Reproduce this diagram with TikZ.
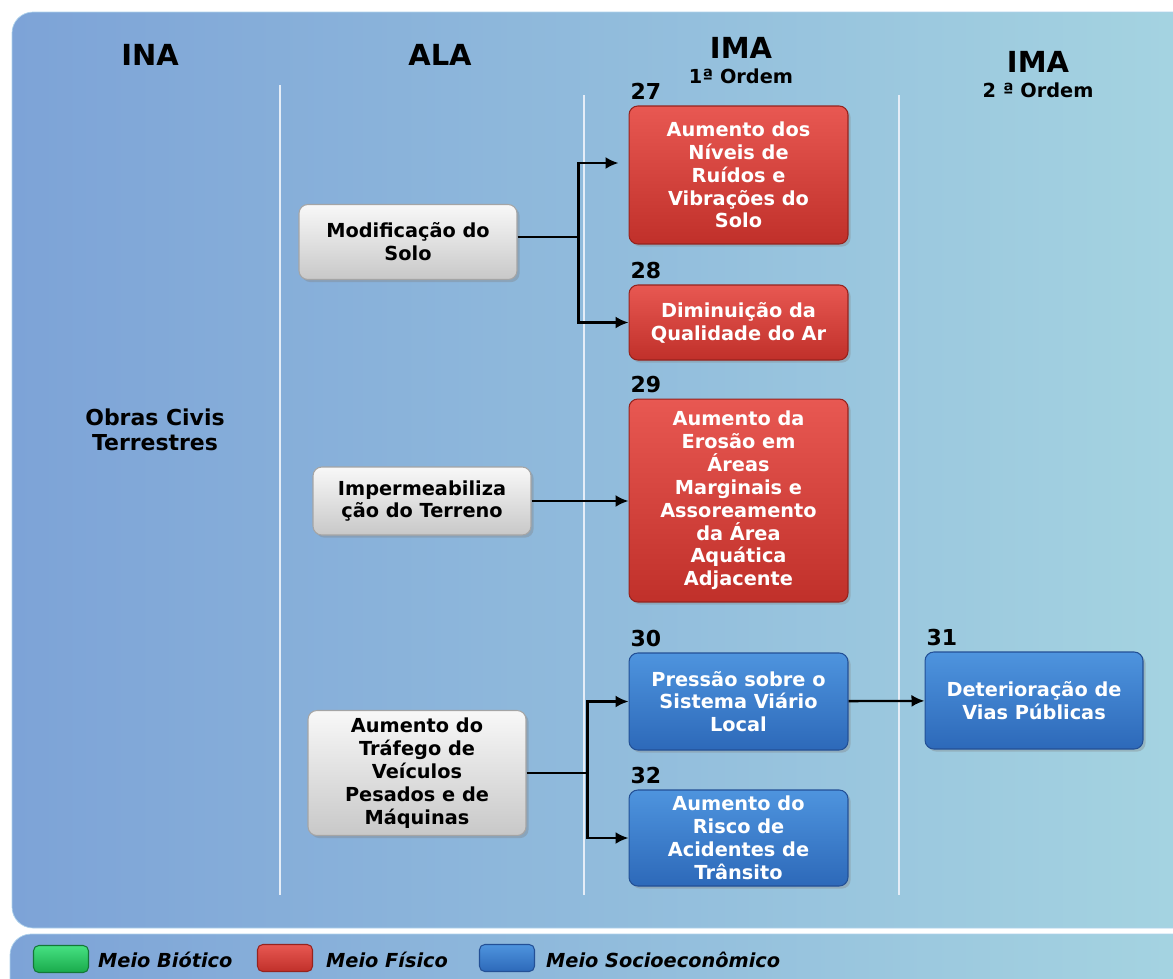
\documentclass[tikz,border=0pt]{standalone}
\usepackage{fontspec}
\setmainfont{DejaVu Sans}
\usepackage{tikz}
\usetikzlibrary{arrows.meta}
\usetikzlibrary{positioning}
\usetikzlibrary{shadows}
\definecolor{panelL}{RGB}{125,163,215}
\definecolor{panelM}{RGB}{128,180,208}
\definecolor{panelR}{RGB}{165,212,225}
\definecolor{panelD}{RGB}{175,210,235}
\definecolor{fisA}{RGB}{232,88,82}
\definecolor{fisB}{RGB}{192,48,42}
\definecolor{fisD}{RGB}{150,35,30}
\definecolor{socA}{RGB}{78,148,222}
\definecolor{socB}{RGB}{45,105,185}
\definecolor{socD}{RGB}{35,80,150}
\definecolor{grayA}{RGB}{248,248,248}
\definecolor{grayB}{RGB}{200,200,200}
\definecolor{grayD}{RGB}{165,165,165}
\definecolor{bioA}{RGB}{70,225,130}
\definecolor{bioB}{RGB}{25,170,75}
\definecolor{bioD}{RGB}{20,120,55}

\begin{document}
\begin{tikzpicture}[x=0.02cm, y=-0.02cm, >={Latex[length=0.26cm,width=0.24cm]},
		box/.style={font=\fontsize{11}{13}\selectfont\bfseries, align=center, rounded corners=5pt, line width=0.6pt,
			drop shadow={opacity=0.35, shadow xshift=1.5pt, shadow yshift=-1.5pt}},
		fis/.style={box, top color=fisA, bottom color=fisB, draw=fisD, text=white, minimum width=4.38cm},
		soc/.style={box, top color=socA, bottom color=socB, draw=socD, text=white, minimum width=4.38cm},
		ala/.style={box, top color=grayA, bottom color=grayB, draw=grayD, text=black, minimum width=4.36cm},
		num/.style={font=\fontsize{12.5}{14}\selectfont\bfseries, anchor=south west, inner sep=1pt, yshift=2pt},
		head/.style={font=\fontsize{16.5}{18}\selectfont\bfseries},
		sub/.style={font=\fontsize{11}{12}\selectfont\bfseries},
		line/.style={line width=1.3pt},
		sep/.style={white!80!panelL, line width=0.6pt},
		sw/.style={rounded corners=3pt, minimum width=1.1cm, minimum height=0.54cm, line width=0.6pt},
		lgd/.style={font=\fontsize{11}{12}\selectfont\bfseries\itshape, anchor=west}]
		\useasboundingbox (0,0) rectangle (1173,978);
		% panels
		\shade[left color=panelL, middle color=panelM, right color=panelR, draw=panelD, rounded corners=12pt] (12,12) rectangle (1195,928);
		\shade[left color=panelL, middle color=panelM, right color=panelR, draw=panelD, rounded corners=12pt] (10,934) rectangle (1195,1000);
		\draw[sep] (280,85) -- (280,895);
		\draw[sep] (584,95) -- (584,895);
		\draw[sep] (899,95) -- (899,895);
		% column headers
		\node[head] (ina) at (150,55) {INA};
		\node[head] (alah) at (440,55) {ALA};
		\node[head] (ima1) at (741,48) {IMA};
		\node[sub] (ord1) at (741,76) {1ª Ordem};
		\node[head] (ima2) at (1038,62) {IMA};
		\node[sub] (ord2) at (1038,90) {2 ª Ordem};
		\node[font=\fontsize{12.5}{14}\selectfont\bfseries, align=center] (obras) at (155,430) {Obras Civis\\Terrestres};
		% ALA
		\node[ala, minimum height=1.5cm] (mod) at (408,242) {Modificação do\\Solo};
		\node[ala, minimum height=1.36cm] (imp) at (422,501) {Impermeabiliza\\ção do Terreno};
		\node[ala, minimum height=2.5cm] (tra) at (417,773) {Aumento do\\Tráfego de\\Veículos\\Pesados e de\\Máquinas};
		% IMA
		\node[fis, minimum height=2.76cm] (i27) at (738.5,175) {Aumento dos\\Níveis de\\Ruídos e\\Vibrações do\\Solo};
		\node[fis, minimum height=1.5cm] (i28) at (738.5,322.5) {Diminuição da\\Qualidade do Ar};
		\node[fis, minimum height=4.06cm] (i29) at (738.5,500.5) {Aumento da\\Erosão em\\Áreas\\Marginais e\\Assoreamento\\da Área\\Aquática\\Adjacente};
		\node[soc, minimum height=1.94cm] (i30) at (738.5,701.5) {Pressão sobre o\\Sistema Viário\\Local};
		\node[soc, minimum height=1.92cm] (i32) at (738.5,838) {Aumento do\\Risco de\\Acidentes de\\Trânsito};
		\node[soc, minimum width=4.36cm, minimum height=1.94cm] (i31) at (1034,700.5) {Deterioração de\\Vias Públicas};
		\node[num] (n27) at (i27.north west) {27};
		\node[num] (n28) at (i28.north west) {28};
		\node[num] (n29) at (i29.north west) {29};
		\node[num] (n30) at (i30.north west) {30};
		\node[num] (n32) at (i32.north west) {32};
		\node[num] (n31) at (i31.north west) {31};
		% arrows
		\draw[line] ([yshift=0.1cm]mod.east) -- ++(61,0) coordinate (j1);
		\draw[line,->,shorten >=0.2cm] (j1) |- ([yshift=0.24cm]i27.west);
		\draw[line,->] (j1) |- (i28.west);
		\draw[line,->] (imp.east) -- (imp.east -| i29.west);
		\draw[line] (tra.east) -- ++(61,0) coordinate (j2);
		\draw[line,->] (j2) |- (i30.west);
		\draw[line,->] (j2) |- (i32.west);
		\draw[line,->] (i30) -- (i31);
		% legend
		\node[sw, top color=bioA, bottom color=bioB, draw=bioD] (bio) at (61,959) {};
		\node[lgd] (tbio) at (92,960) {Meio Biótico};
		\node[sw, top color=fisA, bottom color=fisB, draw=fisD] (fis) at (285,958) {};
		\node[lgd] (tfis) at (320,960) {Meio Físico};
		\node[sw, top color=socA, bottom color=socB, draw=socD] (soc) at (507,958) {};
		\node[lgd] (tsoc) at (540,960) {Meio Socioeconômico};
	\end{tikzpicture}
\end{document}
